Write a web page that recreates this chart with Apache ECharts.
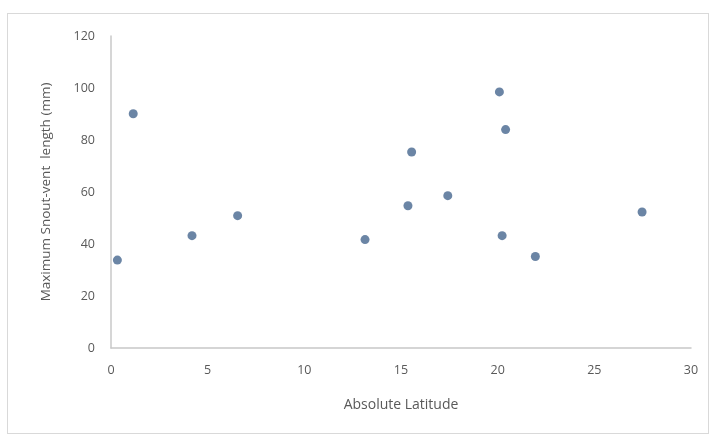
<!DOCTYPE html>
<html><head><meta charset="utf-8">
<script src="https://cdn.jsdelivr.net/npm/echarts@6/dist/echarts.min.js"></script>
<style>html,body{margin:0;padding:0;background:#fff}#c{width:723px;height:437px}
#frame{position:absolute;left:7px;top:13px;width:702px;height:421px;border:1px solid #d9d9d9;box-sizing:border-box;pointer-events:none}</style>
</head><body><div id="c"></div><div id="frame"></div>
<script>
const latitude = [0.33, 1.15, 4.19, 6.55, 13.14, 15.36, 15.55, 17.42, 20.09, 20.23, 20.41, 21.95, 27.47];
const svl = [33.8, 90.1, 43.2, 50.9, 41.7, 54.7, 75.4, 58.6, 98.5, 43.2, 84.0, 35.2, 52.3];
const xTicks = [0, 5, 10, 15, 20, 25, 30];
const yTicks = [0, 20, 40, 60, 80, 100, 120];
const data = latitude.map((x, i) => [x, svl[i]]);
const font = 'Open Sans';
const chart = echarts.init(document.getElementById('c'), null, {renderer: 'canvas'});
chart.setOption({
  animation: false,
  backgroundColor: '#fff',
  grid: {left: 111, right: 32, top: 36, bottom: 89},
  xAxis: {
    type: 'value', min: xTicks[0], max: xTicks[xTicks.length-1], interval: 5,
    name: 'Absolute Latitude', nameLocation: 'middle', nameGap: 50,
    nameTextStyle: {color: '#595959', fontSize: 14, fontFamily: font},
    axisLine: {show: true, lineStyle: {color: '#c8c8c8', width: 1.5}},
    axisTick: {show: false}, splitLine: {show: false},
    axisLabel: {color: '#595959', fontSize: 12.5, fontFamily: font, margin: 16}
  },
  yAxis: {
    type: 'value', min: yTicks[0], max: yTicks[yTicks.length-1], interval: 20,
    name: 'Maximum Snout-vent  length (mm)', nameLocation: 'middle', nameGap: 58,
    nameTextStyle: {color: '#595959', fontSize: 13.5, fontFamily: font},
    axisLine: {show: true, lineStyle: {color: '#c8c8c8', width: 1.5}},
    axisTick: {show: false}, splitLine: {show: false},
    axisLabel: {color: '#595959', fontSize: 12.5, fontFamily: font, margin: 16}
  },
  series: [{
    type: 'scatter', data: data, symbol: 'circle', symbolSize: 9,
    itemStyle: {color: '#46668f'}
  }]
});
</script></body></html>
